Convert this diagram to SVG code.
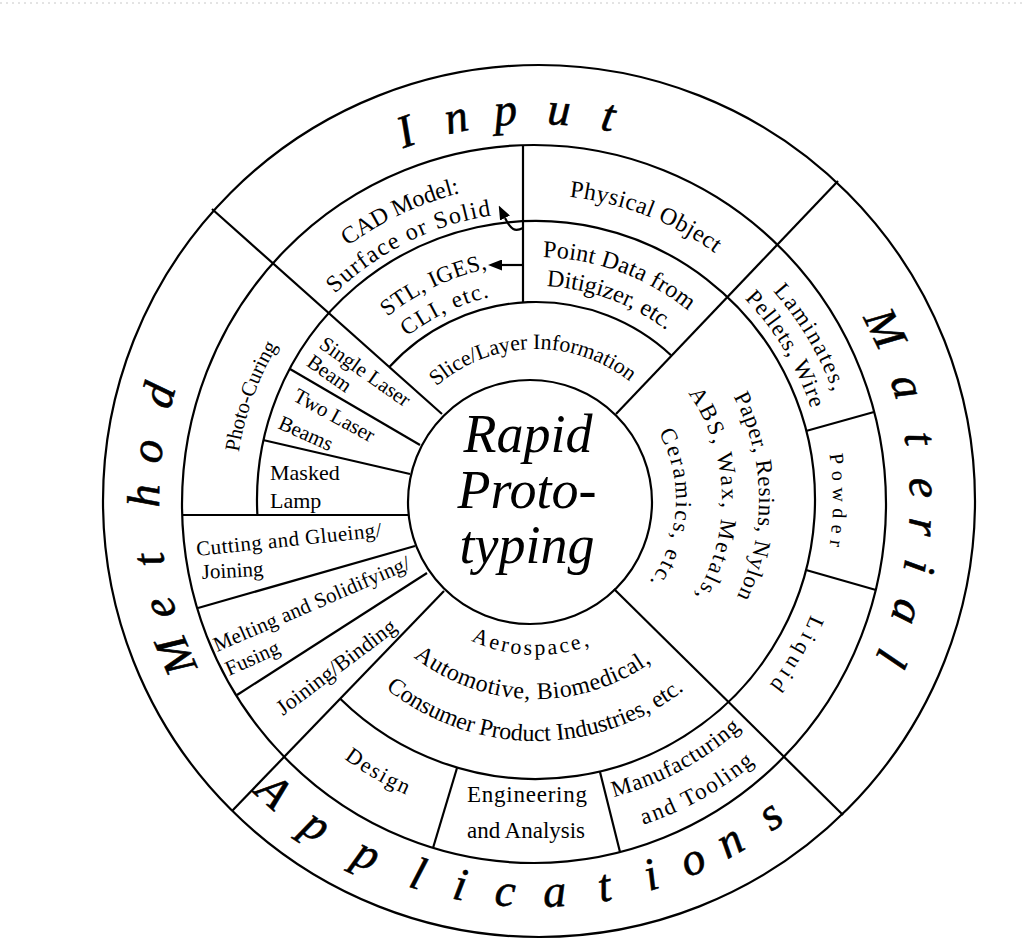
<svg xmlns="http://www.w3.org/2000/svg" width="1026" height="948" viewBox="0 0 1026 948">
<style>
.ln{fill:none;stroke:#000;stroke-width:2.2}
.t{font-family:"Liberation Serif","Times New Roman",serif;fill:#000}
.c{text-anchor:middle}
.big{font-family:"Liberation Serif","Times New Roman",serif;font-style:italic;font-size:46px;text-anchor:middle;fill:#000;stroke:#000;stroke-width:0.6}
.rp{font-family:"Liberation Serif","Times New Roman",serif;font-style:italic;font-size:54px;text-anchor:middle;fill:#000}
</style>
<defs>
<path id="a316" d="M224.8,445.13 A316,316 0 0 1 847.2,445.13"/>
<path id="a288" d="M252.37,449.99 A288,288 0 0 1 819.63,449.99"/>
<path id="a236" d="M303.58,459.02 A236,236 0 0 1 768.42,459.02"/>
<path id="a208" d="M331.16,463.88 A208,208 0 0 1 740.84,463.88"/>
<path id="a151" d="M387.29,473.78 A151,151 0 0 1 684.71,473.78"/>
<path id="a305" d="M235.63,447.04 A305,305 0 0 1 836.37,447.04"/>
<path id="a243" d="M296.69,457.8 A243,243 0 0 1 775.31,457.8"/>
<path id="a214" d="M325.25,462.84 A214,214 0 0 1 746.75,462.84"/>
<path id="a290" d="M250.41,449.64 A290,290 0 0 1 821.59,449.64"/>
<path id="a297" d="M243.51,448.43 A297,297 0 0 1 828.49,448.43"/>
<path id="a298" d="M242.53,448.25 A298,298 0 0 1 829.47,448.25"/>
<path id="a223" d="M316.39,461.28 A223,223 0 0 1 755.61,461.28"/>
<path id="a186" d="M352.83,467.7 A186,186 0 0 1 719.17,467.7"/>
<path id="a140" d="M398.13,475.69 A140,140 0 0 1 673.87,475.69"/>
<path id="a301" d="M239.57,447.73 A301,301 0 0 1 832.43,447.73"/>
<path id="b155" d="M383.35,526.92 A155,155 0 0 0 688.65,526.92"/>
<path id="b199" d="M340.02,534.56 A199,199 0 0 0 731.98,534.56"/>
<path id="b241" d="M298.66,541.85 A241,241 0 0 0 773.34,541.85"/>
<path id="b322" d="M218.89,555.92 A322,322 0 0 0 853.11,555.92"/>
<path id="b307" d="M233.66,553.31 A307,307 0 0 0 838.34,553.31"/>
<path id="b342" d="M199.19,559.39 A342,342 0 0 0 872.81,559.39"/>
<marker id="ah" viewBox="0 0 14 11" refX="0" refY="5.5" markerWidth="14" markerHeight="11" markerUnits="userSpaceOnUse" orient="auto"><path d="M0,0 L14,5.5 L0,11 z" fill="#000"/></marker>
</defs>
<rect width="1026" height="948" fill="#fff"/>
<line x1="0" y1="3" x2="1026" y2="3" stroke="#c8c8c8" stroke-width="1" stroke-dasharray="2 4"/>

<g id="frame" class="ln">
<circle cx="539" cy="501" r="436"/>
<ellipse cx="534" cy="504" rx="352" ry="359"/>
<circle cx="530" cy="502" r="122"/>
<path d="M257.4,515.1 A279,279 0 1 1 340.5,699"/>
<path d="M389.6,366.7 A198,198 0 0 1 671,355.2"/>
<line x1="212" y1="209" x2="442" y2="414"/>
<line x1="838" y1="181" x2="616" y2="414"/>
<line x1="843" y1="815" x2="614" y2="589"/>
<line x1="232" y1="811" x2="444" y2="591"/>
<line x1="523" y1="145" x2="523" y2="302"/>
<line x1="237" y1="695" x2="427" y2="573"/>
<line x1="198" y1="608" x2="415" y2="546"/>
<line x1="182" y1="515" x2="408" y2="515"/>
<line x1="263" y1="440" x2="410" y2="474"/>
<line x1="290" y1="369" x2="420" y2="445"/>
<line x1="806" y1="431" x2="874" y2="412"/>
<line x1="806" y1="570" x2="876" y2="590"/>
<line x1="457" y1="768" x2="433" y2="848"/>
<line x1="600" y1="772" x2="620" y2="852"/>
</g>

<g id="connectors" class="ln">
<path d="M523,265 H502" marker-end="url(#ah)"/>
<path d="M523,228 C515,232 511,230 505,218" marker-end="url(#ah)"/>
</g>

<g id="center">
<text class="rp" x="528" y="452">Rapid</text>
<text class="rp" x="527" y="508">Proto-</text>
<text class="rp" x="527" y="563">typing</text>
</g>

<g id="label-input" class="big">
<text x="536" y="124" transform="rotate(-19.5 536 500)">I</text>
<text x="536" y="124" transform="rotate(-11.8 536 500)">n</text>
<text x="536" y="124" transform="rotate(-4.5 536 500)">p</text>
<text x="536" y="124" transform="rotate(3.4 536 500)">u</text>
<text x="536" y="124" transform="rotate(10.7 536 500)">t</text>
</g>
<g id="label-material" class="big">
<text x="536" y="126" transform="rotate(63.8 536 500)">M</text>
<text x="536" y="126" transform="rotate(73 536 500)">a</text>
<text x="536" y="126" transform="rotate(80.9 536 500)">t</text>
<text x="536" y="126" transform="rotate(88.2 536 500)">e</text>
<text x="536" y="126" transform="rotate(94 536 500)">r</text>
<text x="536" y="126" transform="rotate(99.9 536 500)">i</text>
<text x="536" y="126" transform="rotate(106.8 536 500)">a</text>
<text x="536" y="126" transform="rotate(114 536 500)">l</text>
</g>
<g id="label-method" class="big">
<text x="536" y="123" transform="rotate(246.6 536 500)">M</text>
<text x="536" y="123" transform="rotate(253.9 536 500)">e</text>
<text x="536" y="123" transform="rotate(261.2 536 500)">t</text>
<text x="536" y="123" transform="rotate(270.6 536 500)">h</text>
<text x="536" y="123" transform="rotate(277.2 536 500)">o</text>
<text x="536" y="123" transform="rotate(285.5 536 500)">d</text>
</g>
<g id="label-applications" class="big">
<text x="536" y="907" transform="rotate(42 536 500)">A</text>
<text x="536" y="907" transform="rotate(34 536 500)">p</text>
<text x="536" y="907" transform="rotate(25.5 536 500)">p</text>
<text x="536" y="907" transform="rotate(17.5 536 500)">l</text>
<text x="536" y="907" transform="rotate(11.1 536 500)">i</text>
<text x="536" y="907" transform="rotate(4.5 536 500)">c</text>
<text x="536" y="907" transform="rotate(-2.7 536 500)">a</text>
<text x="536" y="907" transform="rotate(-10 536 500)">t</text>
<text x="536" y="907" transform="rotate(-17 536 500)">i</text>
<text x="536" y="907" transform="rotate(-23.5 536 500)">o</text>
<text x="536" y="907" transform="rotate(-29.6 536 500)">n</text>
<text x="536" y="907" transform="rotate(-36.6 536 500)">s</text>
</g>

<g id="n-cad">
<text class="t c" font-size="24" transform="rotate(-25.2 536 500)"><textPath href="#a316" startOffset="50%" textLength="125" lengthAdjust="spacing">CAD Model:</textPath></text>
<text class="t c" font-size="24" transform="rotate(-26.6 536 500)"><textPath href="#a288" startOffset="50%" textLength="178" lengthAdjust="spacing">Surface or Solid</textPath></text>
</g>
<g id="n-stl">
<text class="t c" font-size="23" transform="rotate(-25.5 536 500)"><textPath href="#a236" startOffset="50%" textLength="112" lengthAdjust="spacing">STL, IGES,</textPath></text>
<text class="t c" font-size="23" transform="rotate(-25.6 536 500)"><textPath href="#a208" startOffset="50%" textLength="92" lengthAdjust="spacing">CLI, etc.</textPath></text>
</g>
<g id="n-slice">
<text class="t c" font-size="22" transform="rotate(-1.4 536 500)"><textPath href="#a151" startOffset="50%" textLength="210" lengthAdjust="spacing">Slice/Layer Information</textPath></text>
</g>
<g id="n-physical">
<text class="t c" font-size="24" transform="rotate(21.1 536 500)"><textPath href="#a305" startOffset="50%" textLength="158" lengthAdjust="spacing">Physical Object</textPath></text>
</g>
<g id="n-point">
<text class="t c" font-size="24" transform="rotate(20.2 536 500)"><textPath href="#a243" startOffset="50%" textLength="158" lengthAdjust="spacing">Point Data from</textPath></text>
<text class="t c" font-size="24" transform="rotate(20.2 536 500)"><textPath href="#a214" startOffset="50%" textLength="130" lengthAdjust="spacing">Ditigizer, etc.</textPath></text>
</g>
<g id="n-laminates">
<text class="t c" font-size="23" transform="rotate(59.3 536 500)"><textPath href="#a316" startOffset="50%" textLength="118" lengthAdjust="spacing">Laminates,</textPath></text>
<text class="t c" font-size="23" transform="rotate(58.8 536 500)"><textPath href="#a290" startOffset="50%" textLength="130" lengthAdjust="spacing">Pellets, Wire</textPath></text>
</g>
<g id="n-powder">
<text class="t c" font-size="20" transform="rotate(90 536 500)"><textPath href="#a297" startOffset="50%" textLength="92" lengthAdjust="spacing">Powder</textPath></text>
</g>
<g id="n-liquid">
<text class="t c" font-size="22" transform="rotate(120.5 536 500)"><textPath href="#a298" startOffset="50%" textLength="82" lengthAdjust="spacing">Liquid</textPath></text>
</g>
<g id="n-materials">
<text class="t c" font-size="23" transform="rotate(89 536 500)"><textPath href="#a223" startOffset="50%" textLength="208" lengthAdjust="spacing">Paper, Resins, Nylon</textPath></text>
<text class="t c" font-size="23" transform="rotate(88 536 500)"><textPath href="#a186" startOffset="50%" textLength="215" lengthAdjust="spacing">ABS, Wax, Metals,</textPath></text>
<text class="t c" font-size="23" transform="rotate(93.5 536 500)"><textPath href="#a140" startOffset="50%" textLength="158" lengthAdjust="spacing">Ceramics, etc.</textPath></text>
</g>
<g id="n-industries">
<text class="t c" font-size="22" transform="rotate(2.3 536 500)"><textPath href="#b155" startOffset="50%" textLength="122" lengthAdjust="spacing">Aerospace,</textPath></text>
<text class="t c" font-size="24" transform="rotate(1.3 536 500)"><textPath href="#b199" startOffset="50%" textLength="255" lengthAdjust="spacing">Automotive, Biomedical,</textPath></text>
<text class="t c" font-size="24" transform="rotate(0.3 536 500)"><textPath href="#b241" startOffset="50%" textLength="322" lengthAdjust="spacing">Consumer Product Industries, etc.</textPath></text>
</g>
<g id="n-design">
<text class="t c" font-size="22" transform="rotate(30.2 536 500)"><textPath href="#b322" startOffset="50%" textLength="72" lengthAdjust="spacing">Design</textPath></text>
</g>
<g id="n-engineering">
<text class="t c" font-size="23" x="527" y="802" textLength="120" lengthAdjust="spacing">Engineering</text>
<text class="t c" font-size="23" x="526" y="838" textLength="118" lengthAdjust="spacing">and Analysis</text>
</g>
<g id="n-manufacturing">
<text class="t c" font-size="23" transform="rotate(-28.3 536 500)"><textPath href="#b307" startOffset="50%" textLength="146" lengthAdjust="spacing">Manufacturing</textPath></text>
<text class="t c" font-size="23" transform="rotate(-29 536 500)"><textPath href="#b342" startOffset="50%" textLength="128" lengthAdjust="spacing">and Tooling</textPath></text>
</g>
<g id="n-photocuring">
<text class="t c" font-size="21" transform="rotate(290 536 500)"><textPath href="#a301" startOffset="50%" textLength="114" lengthAdjust="spacing">Photo-Curing</textPath></text>
</g>
<g id="n-single">
<text class="t" font-size="21" transform="translate(318 347) rotate(35)"><tspan x="0" y="0">Single Laser</tspan><tspan x="0" y="22">Beam</tspan></text>
</g>
<g id="n-two">
<text class="t" font-size="21" transform="translate(292 400) rotate(28.6)">Two Laser</text>
<text class="t" font-size="21" transform="translate(277 428) rotate(24)">Beams</text>
</g>
<g id="n-masked">
<text class="t" font-size="22" x="270" y="480">Masked</text>
<text class="t" font-size="22" x="270" y="508">Lamp</text>
</g>
<g id="n-cutting">
<text class="t" font-size="21" transform="translate(197 556) rotate(-6)" textLength="186" lengthAdjust="spacing">Cutting and Glueing/</text>
<text class="t" font-size="21" transform="translate(202 579) rotate(-3)">Joining</text>
</g>
<g id="n-melting">
<text class="t" font-size="21" transform="translate(217 652) rotate(-23.3)" textLength="212" lengthAdjust="spacing">Melting and Solidifying/</text>
<text class="t" font-size="21" transform="translate(229 676) rotate(-24)">Fusing</text>
</g>
<g id="n-joining">
<text class="t" font-size="22" transform="translate(283 716) rotate(-37)" textLength="144" lengthAdjust="spacing">Joining/Binding</text>
</g>
</svg>
